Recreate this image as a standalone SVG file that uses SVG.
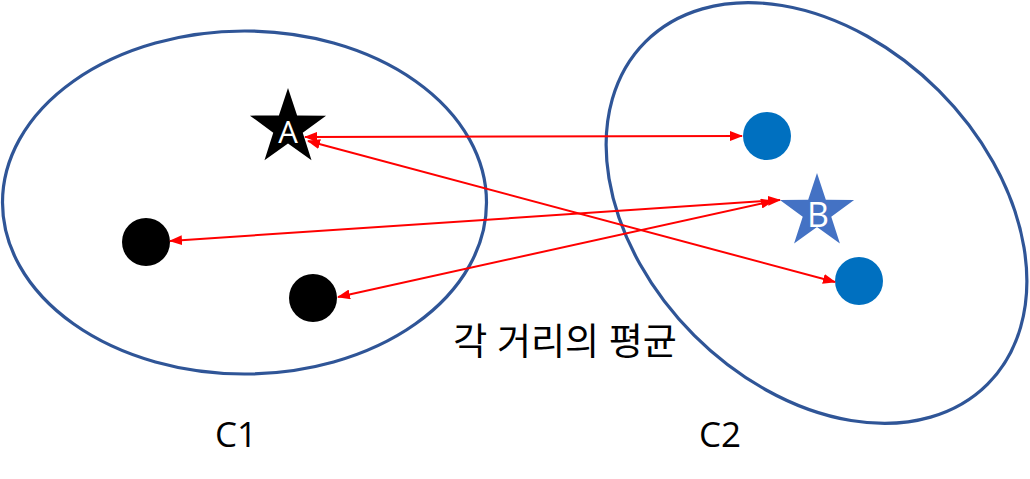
<svg xmlns="http://www.w3.org/2000/svg" width="1030" height="479" viewBox="0 0 1030 479">
<style>
.cluster{fill:none;stroke:#2F5597;stroke-width:3.2}
.conn{stroke:#FF0000;stroke-width:2;fill:none;marker-start:url(#ah);marker-end:url(#ah)}
.lbl{font-family:"Open Sans","Noto Sans CJK KR",sans-serif;fill:#000}
.star-lbl{font-family:"Open Sans","Noto Sans CJK KR",sans-serif;fill:#fff;text-anchor:middle}
</style>
<defs>
<marker id="ah" markerUnits="userSpaceOnUse" markerWidth="13" markerHeight="10" refX="12" refY="5" orient="auto-start-reverse">
<path d="M0,0 L13,5 L0,10 z" fill="#FF0000"/>
</marker>
</defs>
<rect width="1030" height="479" fill="#fff"/>
<g id="C1">
<ellipse class="cluster" cx="244.5" cy="202.5" rx="242" ry="171.5"/>
</g>
<g id="C2">
<ellipse class="cluster" cx="816.5" cy="213" rx="242" ry="173" transform="rotate(45 816.5 213)"/>
</g>
<g id="A">
<polygon points="288,88 297.11,115.46 326.04,115.64 302.74,132.79 311.51,160.36 288,143.5 264.49,160.36 273.26,132.79 249.96,115.64 278.89,115.46" fill="#000"/>
<text class="star-lbl" x="288" y="143" font-size="31">A</text>
</g>
<g id="B">
<polygon points="817,173 825.82,199.86 854.09,199.95 831.27,216.64 839.92,243.55 817,227 794.08,243.55 802.73,216.64 779.91,199.95 808.18,199.86" fill="#4472C4"/>
<text class="star-lbl" x="818" y="227" font-size="34">B</text>
</g>
<g id="p1"><circle cx="146" cy="242" r="24" fill="#000"/></g>
<g id="p2"><circle cx="313" cy="298" r="24" fill="#000"/></g>
<g id="q1"><circle cx="767" cy="136" r="24" fill="#0070C0"/></g>
<g id="q2"><circle cx="859" cy="281" r="24" fill="#0070C0"/></g>
<g id="connectors">
<line class="conn" x1="305" y1="137" x2="742" y2="136"/>
<line class="conn" x1="308" y1="141" x2="835" y2="282"/>
<line class="conn" x1="170" y1="241" x2="780" y2="200"/>
<line class="conn" x1="338" y1="297" x2="773" y2="201"/>
</g>
<g id="labels">
<text class="lbl" x="565" y="355" font-size="37" text-anchor="middle">각 거리의 평균</text>
<text class="lbl" x="236" y="447" font-size="35" text-anchor="middle">C1</text>
<text class="lbl" x="720" y="447" font-size="35" text-anchor="middle">C2</text>
</g>
</svg>
